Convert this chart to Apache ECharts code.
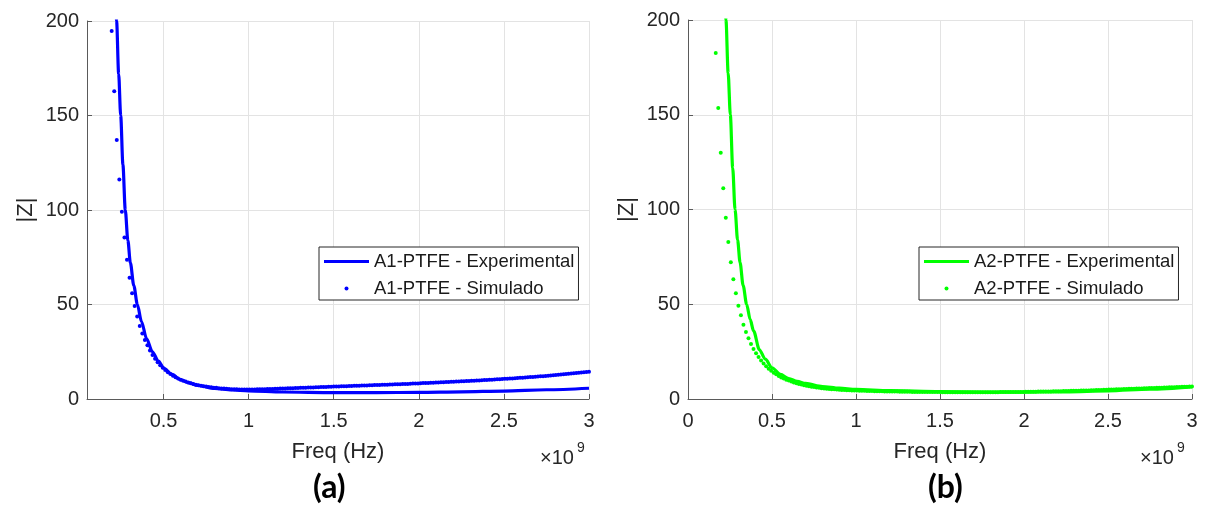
<!DOCTYPE html>
<html>
<head>
<meta charset="utf-8">
<title>|Z| - PTFE</title>
<script src="https://cdn.jsdelivr.net/npm/echarts@6/dist/echarts.min.js"></script>
<style>
  html, body { margin: 0; padding: 0; background: #fff; }
  #chartmain { width: 1205px; height: 506px; }
</style>
</head>
<body>
<div id="chartmain"></div>
<script type="text/javascript">
// frequencies in MHz (axis shows x10^9 Hz)
var simFreq = [
  165, 180, 195, 210, 225, 240, 255, 270, 285, 300,
  315, 330, 345, 360, 375, 390, 405, 420, 435, 450,
  465, 480, 495, 510, 525, 540, 555, 570, 585, 600,
  615, 630, 645, 660, 675, 690, 705, 720, 735, 750,
  765, 780, 795, 810, 825, 840, 855, 870, 885, 900,
  915, 930, 945, 960, 975, 990, 1005, 1020, 1035, 1050,
  1065, 1080, 1095, 1110, 1125, 1140, 1155, 1170, 1185, 1200,
  1215, 1230, 1245, 1260, 1275, 1290, 1305, 1320, 1335, 1350,
  1365, 1380, 1395, 1410, 1425, 1440, 1455, 1470, 1485, 1500,
  1515, 1530, 1545, 1560, 1575, 1590, 1605, 1620, 1635, 1650,
  1665, 1680, 1695, 1710, 1725, 1740, 1755, 1770, 1785, 1800,
  1815, 1830, 1845, 1860, 1875, 1890, 1905, 1920, 1935, 1950,
  1965, 1980, 1995, 2010, 2025, 2040, 2055, 2070, 2085, 2100,
  2115, 2130, 2145, 2160, 2175, 2190, 2205, 2220, 2235, 2250,
  2265, 2280, 2295, 2310, 2325, 2340, 2355, 2370, 2385, 2400,
  2415, 2430, 2445, 2460, 2475, 2490, 2505, 2520, 2535, 2550,
  2565, 2580, 2595, 2610, 2625, 2640, 2655, 2670, 2685, 2700,
  2715, 2730, 2745, 2760, 2775, 2790, 2805, 2820, 2835, 2850,
  2865, 2880, 2895, 2910, 2925, 2940, 2955, 2970, 2985, 3000
];

// A1-PTFE - Simulado
var simA1 = [
  280, 232, 194.7, 162.8, 137, 116.2, 99.1, 85.4, 73.7, 64.2,
  55.9, 49.2, 43.7, 38.6, 34.7, 31.2, 28.4, 25.6, 23.3, 21.3,
  19.5, 17.9, 16.5, 15.3, 14.2, 13.2, 12.3, 11.5, 10.8, 10.2,
  9.7, 9.2, 8.7, 8.3, 7.9, 7.6, 7.3, 7.0, 6.8, 6.6,
  6.4, 6.2, 6.0, 5.9, 5.7, 5.6, 5.5, 5.4, 5.3, 5.2,
  5.15, 5.1, 5.05, 5.0, 5.0, 5.0, 5.0, 5.0, 5.05, 5.1,
  5.1, 5.15, 5.2, 5.25, 5.3, 5.35, 5.4, 5.45, 5.5, 5.55,
  5.6, 5.65, 5.7, 5.75, 5.8, 5.85, 5.9, 5.95, 6.0, 6.05,
  6.1, 6.15, 6.2, 6.25, 6.3, 6.35, 6.4, 6.45, 6.5, 6.55,
  6.6, 6.65, 6.7, 6.75, 6.8, 6.85, 6.9, 6.95, 7.0, 7.05,
  7.1, 7.15, 7.2, 7.25, 7.3, 7.35, 7.4, 7.45, 7.5, 7.55,
  7.6, 7.65, 7.7, 7.75, 7.8, 7.85, 7.9, 7.95, 8.0, 8.1,
  8.15, 8.2, 8.25, 8.3, 8.4, 8.45, 8.5, 8.55, 8.6, 8.7,
  8.75, 8.8, 8.9, 8.95, 9.0, 9.1, 9.15, 9.2, 9.3, 9.35,
  9.4, 9.5, 9.55, 9.6, 9.7, 9.8, 9.85, 9.9, 10.0, 10.1,
  10.15, 10.25, 10.3, 10.4, 10.5, 10.55, 10.65, 10.75, 10.8, 10.9,
  11.0, 11.1, 11.2, 11.3, 11.4, 11.5, 11.6, 11.7, 11.8, 11.9,
  12.0, 12.1, 12.2, 12.35, 12.45, 12.6, 12.7, 12.85, 12.95, 13.1,
  13.2, 13.35, 13.5, 13.6, 13.75, 13.85, 14.0, 14.1, 14.25, 14.4
];

// A2-PTFE - Simulado
var simA2 = [
  182.6, 153.6, 130, 111.2, 95.7, 82.8, 72.1, 63.2, 55.8, 49.2,
  44.2, 39.2, 35.4, 32.0, 29.0, 26.4, 24.1, 22.1, 20.3, 18.7,
  17.3, 16.0, 14.9, 13.9, 13.0, 12.2, 11.4, 10.8, 10.2, 9.7,
  9.2, 8.7, 8.3, 7.9, 7.6, 7.3, 7.0, 6.7, 6.5, 6.3,
  6.1, 5.9, 5.7, 5.6, 5.4, 5.3, 5.2, 5.1, 5.0, 4.9,
  4.8, 4.7, 4.65, 4.6, 4.55, 4.5, 4.45, 4.4, 4.35, 4.3,
  4.25, 4.2, 4.2, 4.15, 4.1, 4.1, 4.05, 4.0, 4.0, 3.95,
  3.95, 3.9, 3.9, 3.85, 3.85, 3.8, 3.8, 3.8, 3.75, 3.75,
  3.75, 3.7, 3.7, 3.7, 3.7, 3.65, 3.65, 3.65, 3.65, 3.65,
  3.6, 3.6, 3.6, 3.6, 3.6, 3.6, 3.6, 3.6, 3.6, 3.6,
  3.6, 3.6, 3.6, 3.6, 3.6, 3.6, 3.6, 3.6, 3.6, 3.6,
  3.6, 3.6, 3.6, 3.65, 3.65, 3.65, 3.65, 3.7, 3.7, 3.7,
  3.7, 3.75, 3.75, 3.8, 3.8, 3.8, 3.85, 3.85, 3.9, 3.9,
  3.95, 3.95, 4.0, 4.0, 4.05, 4.1, 4.1, 4.15, 4.2, 4.2,
  4.25, 4.3, 4.3, 4.35, 4.4, 4.45, 4.5, 4.5, 4.55, 4.6,
  4.65, 4.7, 4.75, 4.8, 4.85, 4.9, 4.95, 5.0, 5.05, 5.1,
  5.15, 5.2, 5.25, 5.3, 5.35, 5.4, 5.45, 5.5, 5.55, 5.6,
  5.65, 5.7, 5.75, 5.8, 5.85, 5.9, 5.95, 6.0, 6.05, 6.1,
  6.15, 6.2, 6.25, 6.3, 6.35, 6.4, 6.45, 6.5, 6.55, 6.6
];

// A1-PTFE - Experimental
var expFreqA1 = [200, 212, 224, 236, 248, 261, 275, 290, 305, 325, 346, 370, 400, 434, 470, 500, 550, 600, 650, 700, 800, 900, 1000, 1200, 1500, 1750, 2000, 2250, 2500, 2750, 3000];
var expA1 = [281, 236, 200, 172, 150, 124, 100, 84, 72, 60, 50, 41, 32, 25, 20, 16.4, 13, 10.2, 8.5, 7.2, 5.6, 4.8, 4.3, 3.7, 3.4, 3.4, 3.5, 3.8, 4.2, 4.9, 5.7];

// A2-PTFE - Experimental
var expFreqA2 = [200, 213, 226, 239, 252, 266, 280, 295, 310, 328, 349, 370, 390, 425, 460, 500, 550, 600, 650, 700, 800, 900, 1000, 1200, 1500, 1750, 2000, 2250, 2500, 2750, 3000];
var expA2 = [288, 240, 200, 172, 150, 122, 100, 84, 72, 60, 50, 42, 36, 26, 21, 16.5, 13, 10.8, 9.3, 8.2, 6.6, 5.7, 5.1, 4.4, 3.9, 3.7, 3.6, 3.8, 4.3, 5.2, 6.4];

var xTicksA1 = [500, 1000, 1500, 2000, 2500, 3000];

var namesA1 = ['A1-PTFE - Experimental', 'A1-PTFE - Simulado'];
var namesA2 = ['A2-PTFE - Experimental', 'A2-PTFE - Simulado'];

function pairs(xs, ys) {
    var out = [];
    for (var i = 0; i < xs.length; i++) out.push([xs[i], ys[i]]);
    return out;
}

var FONT = 'Liberation Sans, Arial, sans-serif';
var TXT = '#262626';
var AXC = '#5a5a5a';
var GRIDC = '#e3e3e3';

function xAxisCfg(idx, min, custom) {
    var ax = {
        type: 'value',
        gridIndex: idx,
        min: min,
        max: 3000,
        name: 'Freq (Hz)',
        nameLocation: 'middle',
        nameGap: 42,
        nameTextStyle: { fontFamily: FONT, fontSize: 22, color: TXT },
        axisLine: { show: true, lineStyle: { color: AXC, width: 1 } },
        axisTick: { show: true, inside: true, length: 5, lineStyle: { color: AXC } },
        axisLabel: {
            fontFamily: FONT, fontSize: 20, color: TXT, margin: 12,
            formatter: function (v) { return String(v / 1000); }
        },
        splitLine: { show: true, lineStyle: { color: GRIDC, width: 1 } }
    };
    if (custom) {
        ax.axisTick.customValues = custom;
        ax.axisLabel.customValues = custom;
    } else {
        ax.interval = 500;
    }
    return ax;
}

function yAxisCfg(idx) {
    return {
        type: 'value',
        gridIndex: idx,
        min: 0,
        max: 200,
        interval: 50,
        name: '|Z|',
        nameLocation: 'middle',
        nameGap: 50,
        nameTextStyle: { fontFamily: FONT, fontSize: 22, color: TXT },
        axisLine: { show: true, lineStyle: { color: AXC, width: 1 } },
        axisTick: { show: true, inside: true, length: 5, lineStyle: { color: AXC } },
        axisLabel: { fontFamily: FONT, fontSize: 20, color: TXT, margin: 8 },
        splitLine: { show: true, lineStyle: { color: GRIDC, width: 1 } }
    };
}

// flat bar for the line entry, small dot for the scatter entry
var LINE_ICON = 'path://M0,0L45,0L45,3L0,3Z';

function legendCfg(left, names) {
    return {
        orient: 'vertical',
        left: left,
        top: 247,
        padding: [5, 4, 2, 5],
        itemWidth: 45,
        itemHeight: 4,
        itemGap: 8,
        backgroundColor: '#fff',
        borderColor: '#262626',
        borderWidth: 1,
        borderRadius: 0,
        textStyle: { fontFamily: FONT, fontSize: 18.5, color: '#1a1a1a', lineHeight: 18 },
        data: [{ name: names[0], icon: LINE_ICON }, { name: names[1], icon: 'circle' }]
    };
}

function expSeries(name, idx, color, data) {
    return {
        name: name, type: 'line', xAxisIndex: idx, yAxisIndex: idx,
        data: data, showSymbol: false, symbol: 'none',
        smooth: 0.3, smoothMonotone: 'x',
        lineStyle: { color: color, width: 3.2 }, itemStyle: { color: color },
        clip: true, z: 2
    };
}

function simSeries(name, idx, color, data) {
    return {
        name: name, type: 'scatter', xAxisIndex: idx, yAxisIndex: idx,
        data: data, symbol: 'circle', symbolSize: 4,
        itemStyle: { color: color, opacity: 1 },
        clip: true, z: 3
    };
}

var myChart = echarts.init(document.getElementById('chartmain'), null, { renderer: 'canvas' });

myChart.setOption({
    backgroundColor: '#fff',
    animation: false,
    grid: [
        { left: 87, top: 21, width: 502, height: 378, containLabel: false, outerBoundsMode: 'none' },
        { left: 688, top: 20, width: 504, height: 379, containLabel: false, outerBoundsMode: 'none' }
    ],
    xAxis: [xAxisCfg(0, 50, xTicksA1), xAxisCfg(1, 0, null)],
    yAxis: [yAxisCfg(0), yAxisCfg(1)],
    legend: [legendCfg(319, namesA1), legendCfg(919, namesA2)],
    series: [
        expSeries(namesA1[0], 0, '#0000ff', pairs(expFreqA1, expA1)),
        simSeries(namesA1[1], 0, '#0000ff', pairs(simFreq, simA1)),
        expSeries(namesA2[0], 1, '#00ff00', pairs(expFreqA2, expA2)),
        simSeries(namesA2[1], 1, '#00ff00', pairs(simFreq, simA2))
    ],
    graphic: [
        { type: 'text', left: 540, top: 448, style: { text: '\u00d710', font: '20px ' + FONT, fill: TXT } },
        { type: 'text', left: 577, top: 441, style: { text: '9', font: '14px ' + FONT, fill: TXT } },
        { type: 'text', left: 1140, top: 448, style: { text: '\u00d710', font: '20px ' + FONT, fill: TXT } },
        { type: 'text', left: 1177, top: 441, style: { text: '9', font: '14px ' + FONT, fill: TXT } },
        { type: 'text', left: 313, top: 472, style: { text: '(a)', font: 'bold 32px Lato, "Open Sans", sans-serif', fill: '#000' } },
        { type: 'text', left: 928, top: 472, style: { text: '(b)', font: 'bold 32px Lato, "Open Sans", sans-serif', fill: '#000' } }
    ]
});
</script>
</body>
</html>
